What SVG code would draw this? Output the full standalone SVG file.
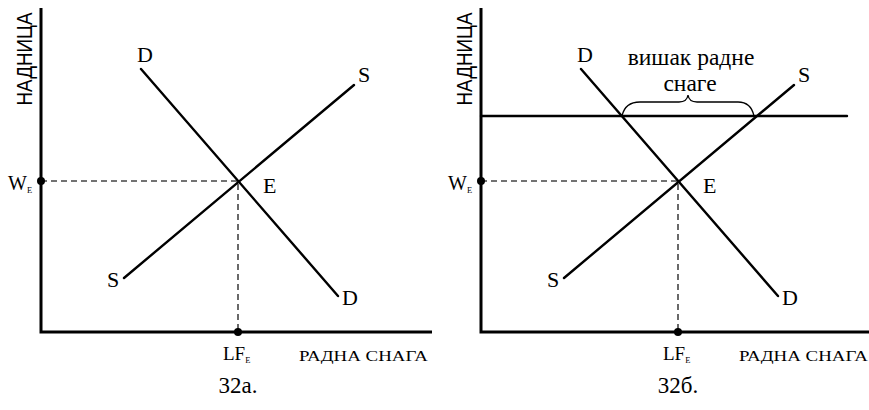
<svg xmlns="http://www.w3.org/2000/svg" width="869" height="410" viewBox="0 0 869 410">
<style>
.ax{stroke:#000;stroke-width:3;fill:none}
.cv{stroke:#000;stroke-width:2.4;fill:none;stroke-linecap:round}
.ds{stroke:#444;stroke-width:1.6;stroke-dasharray:6 4;fill:none}
.br{stroke:#000;stroke-width:1.3;fill:none}
.lb{font-size:22px}
.sub{font-size:8.5px}
.cap{font-size:23px}
</style>
<rect width="869" height="410" fill="#fff"/>
<g id="panel-a">
  <g id="axes-a">
    <path class="ax" d="M41,8 V332 H432"/>
  </g>
  <g id="connectors-a">
    <path class="ds" d="M41,181 H238 V332"/>
    <line class="cv" x1="141" y1="69" x2="338" y2="296"/>
    <line class="cv" x1="124" y1="278" x2="354" y2="85"/>
  </g>
  <g id="points-a">
    <circle cx="41" cy="181" r="4"/>
    <circle cx="238" cy="332" r="4"/>
  </g>
  <g id="labels-a" font-family="'Liberation Serif', 'Times New Roman', serif">
    <text font-family="'Liberation Sans', Arial, sans-serif" font-size="22" transform="translate(32,59) rotate(-90)" text-anchor="middle" textLength="93" lengthAdjust="spacingAndGlyphs">НАДНИЦА</text>
    <text class="lb" x="145" y="62" text-anchor="middle">D</text>
    <text class="lb" x="364" y="82" text-anchor="middle">S</text>
    <text class="lb" x="263" y="193">E</text>
    <text class="lb" x="113" y="287" text-anchor="middle">S</text>
    <text class="lb" x="342" y="305">D</text>
    <text x="8" y="190" font-size="20">W<tspan class="sub" dy="3">E</tspan></text>
    <text x="223" y="360" font-size="19">LF<tspan class="sub" dy="3">E</tspan></text>
    <text x="299" y="361" font-size="15" textLength="129" lengthAdjust="spacingAndGlyphs">РАДНА СНАГА</text>
    <text class="cap" x="238" y="393" text-anchor="middle">32а.</text>
  </g>
</g>
<g id="panel-b">
  <g id="axes-b">
    <path class="ax" d="M481,8 V332 H872"/>
  </g>
  <g id="connectors-b">
    <path class="ds" d="M481,181 H678 V332"/>
    <line class="cv" x1="581" y1="69" x2="778" y2="296"/>
    <line class="cv" x1="564" y1="278" x2="794" y2="85"/>
    <line class="cv" x1="481" y1="116" x2="847" y2="116"/>
    <path class="br" d="M622,116 Q625,102 640,102 L679,102 Q687,102 688,95 Q689,102 697,102 L738,102 Q751,102 754,116"/>
  </g>
  <g id="points-b">
    <circle cx="481" cy="181" r="4"/>
    <circle cx="678" cy="332" r="4"/>
  </g>
  <g id="labels-b" font-family="'Liberation Serif', 'Times New Roman', serif">
    <text font-family="'Liberation Sans', Arial, sans-serif" font-size="22" transform="translate(472,59) rotate(-90)" text-anchor="middle" textLength="93" lengthAdjust="spacingAndGlyphs">НАДНИЦА</text>
    <text class="lb" x="585" y="62" text-anchor="middle">D</text>
    <text class="lb" x="804" y="82" text-anchor="middle">S</text>
    <text class="lb" x="703" y="193">E</text>
    <text class="lb" x="553" y="287" text-anchor="middle">S</text>
    <text class="lb" x="782" y="305">D</text>
    <text x="448" y="190" font-size="20">W<tspan class="sub" dy="3">E</tspan></text>
    <text x="663" y="360" font-size="19">LF<tspan class="sub" dy="3">E</tspan></text>
    <text x="739" y="361" font-size="15" textLength="129" lengthAdjust="spacingAndGlyphs">РАДНА СНАГА</text>
    <text class="cap" x="678" y="393" text-anchor="middle">32б.</text>
    <text x="691" y="65" text-anchor="middle" font-size="23.5">вишак радне</text>
    <text x="690" y="91" text-anchor="middle" font-size="23.5">снаге</text>
  </g>
</g>
</svg>
